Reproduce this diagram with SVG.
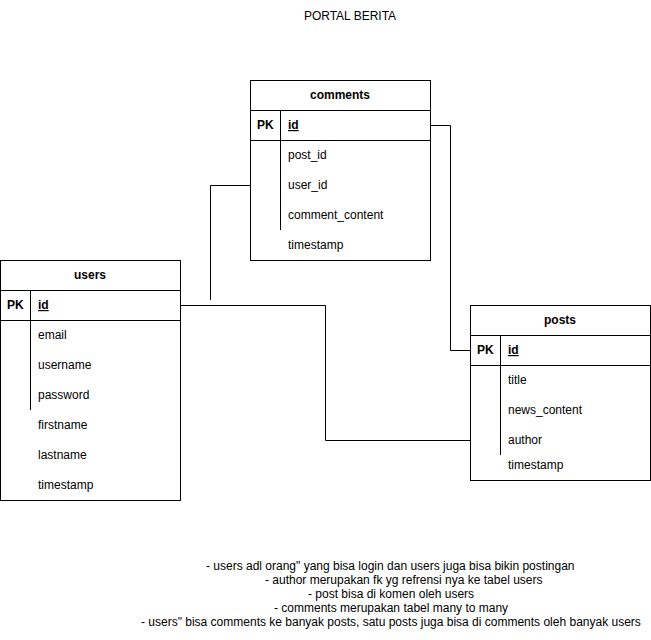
<svg xmlns="http://www.w3.org/2000/svg" width="651" height="640" viewBox="0 0 651 640">
<style>
text{font-family:"Liberation Sans",Arial,sans-serif;font-size:12px;fill:#000}
.b{font-weight:bold}
.h{font-weight:bold;text-anchor:middle}
.u{text-decoration:underline;font-weight:bold}
.box{fill:#fff;stroke:#000;stroke-width:1}
.ln{stroke:#000;stroke-width:1;fill:none}
.c{text-anchor:middle}
</style>
<rect width="651" height="640" fill="#fff"/>
<text class="c" x="350" y="20">PORTAL BERITA</text>

<g id="connectors">
<path class="ln" d="M430.5 125.5 H450.5 V350.5 H470.5"/>
<path class="ln" d="M180.5 305.5 H325.5 V440.5 H470.5"/>
<path class="ln" d="M250.5 185.5 H210.5 V300"/>
</g>

<g id="comments">
<rect class="box" x="250.5" y="80.5" width="180" height="180"/>
<line class="ln" x1="250.5" y1="110.5" x2="430.5" y2="110.5"/>
<line class="ln" x1="250.5" y1="140.5" x2="430.5" y2="140.5"/>
<line class="ln" x1="280.5" y1="110.5" x2="280.5" y2="230"/>
<text class="h" x="340" y="99">comments</text>
<text class="b" x="257" y="129">PK</text>
<text class="u" x="288" y="129">id</text>
<text x="288" y="159">post_id</text>
<text x="288" y="189">user_id</text>
<text x="288" y="219">comment_content</text>
<text x="288" y="249">timestamp</text>
</g>

<g id="users">
<rect class="box" x="0.5" y="260.5" width="180" height="240"/>
<line class="ln" x1="0.5" y1="290.5" x2="180.5" y2="290.5"/>
<line class="ln" x1="0.5" y1="320.5" x2="180.5" y2="320.5"/>
<line class="ln" x1="30.5" y1="290.5" x2="30.5" y2="410"/>
<text class="h" x="90" y="279">users</text>
<text class="b" x="7" y="309">PK</text>
<text class="u" x="38" y="309">id</text>
<text x="38" y="339">email</text>
<text x="38" y="369">username</text>
<text x="38" y="399">password</text>
<text x="38" y="429">firstname</text>
<text x="38" y="459">lastname</text>
<text x="38" y="489">timestamp</text>
</g>

<g id="posts">
<rect class="box" x="470.5" y="305.5" width="180" height="175"/>
<line class="ln" x1="470.5" y1="335.5" x2="650.5" y2="335.5"/>
<line class="ln" x1="470.5" y1="365.5" x2="650.5" y2="365.5"/>
<line class="ln" x1="500.5" y1="335.5" x2="500.5" y2="455"/>
<text class="h" x="560" y="324">posts</text>
<text class="b" x="477" y="354">PK</text>
<text class="u" x="508" y="354">id</text>
<text x="508" y="384">title</text>
<text x="508" y="414">news_content</text>
<text x="508" y="444">author</text>
<text x="508" y="469">timestamp</text>
</g>

<g id="notes">
<text x="206" y="570">- users adl orang" yang bisa login dan users juga bisa bikin postingan</text>
<text x="265" y="584">- author merupakan fk yg refrensi nya ke tabel users</text>
<text x="308" y="598">- post bisa di komen oleh users</text>
<text x="274" y="612">- comments merupakan tabel many to many</text>
<text x="141" y="626">- users" bisa comments ke banyak posts, satu posts juga bisa di comments oleh banyak users</text>
</g>
</svg>
